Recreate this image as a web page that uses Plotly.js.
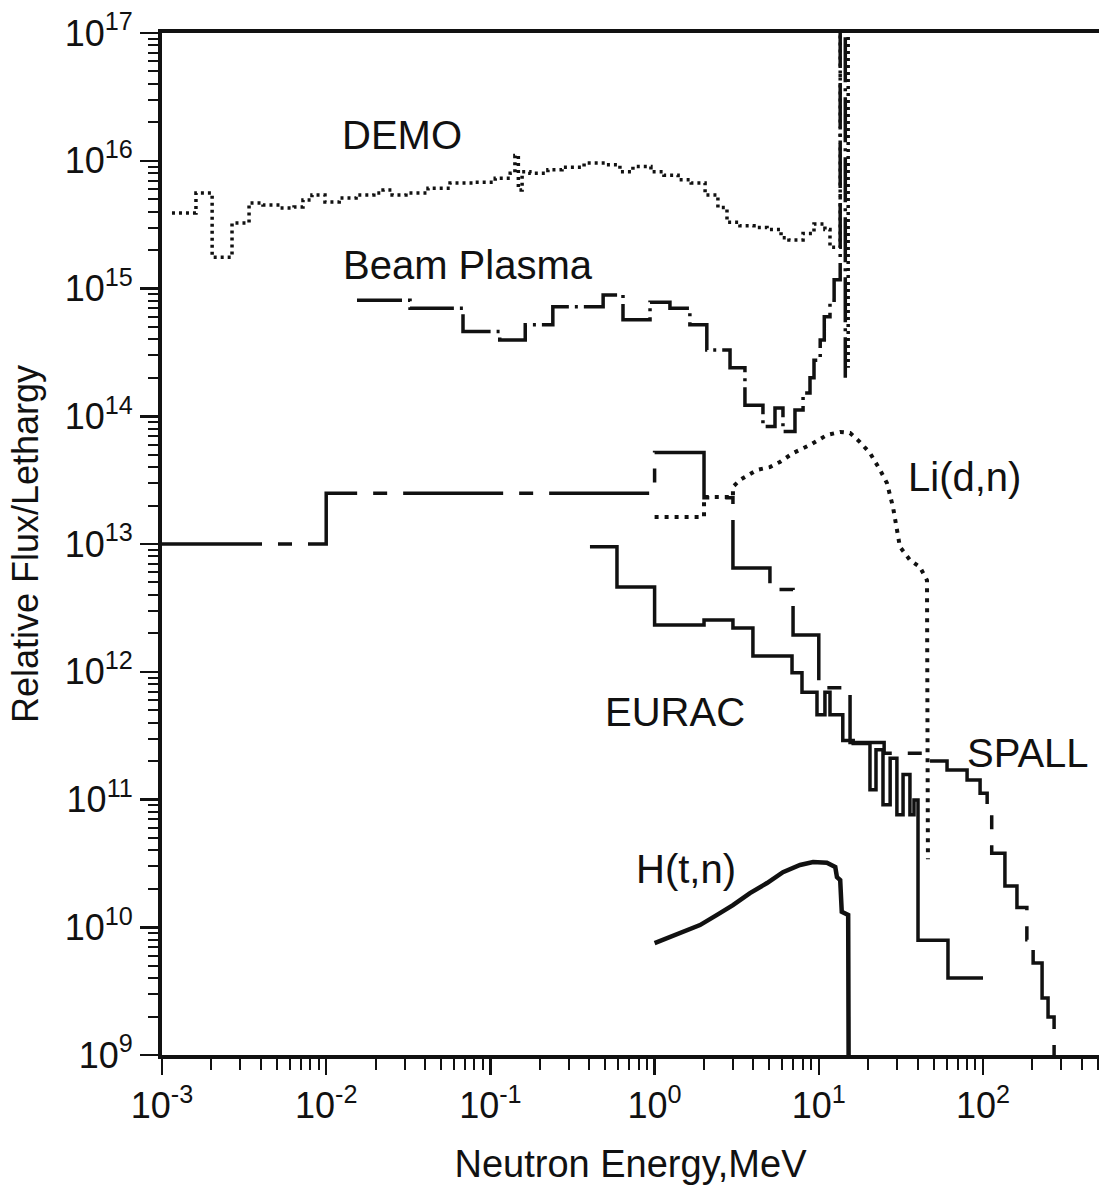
<!DOCTYPE html>
<html>
<head>
<meta charset="utf-8">
<script src="https://cdn.plot.ly/plotly-3.0.1.min.js"></script>
<style>html,body{margin:0;padding:0;background:#fff;}#chart{width:1099px;height:1192px;}</style>
</head>
<body>
<div id="chart"></div>
<script>
// ---- DATA ----
// DEMO: bin lower edges (MeV) and relative flux/lethargy
const demoE = [1.15e-3, 1.61e-3, 2.02e-3, 2.67e-3, 3.39e-3, 4.12e-3, 5.23e-3, 6.37e-3, 7.22e-3, 8.19e-3, 9.83e-3, 1.2e-2, 1.52e-2, 1.95e-2, 2.22e-2, 2.52e-2, 3.06e-2, 4.17e-2, 5.68e-2, 7.84e-2, 0.107, 0.132, 0.141, 0.148, 0.156, 0.174, 0.224, 0.273, 0.372, 0.506, 0.615, 0.738, 0.95, 1.14, 1.39, 1.67, 2.03, 2.43, 2.76, 3.31, 4.03, 4.84, 5.89, 6.58, 8.02, 9.35, 10.9, 11.7, 13.5, 15.1];
const demoFlux = [3.9e15, 5.6e15, 1.76e15, 3.26e15, 4.67e15, 4.5e15, 4.27e15, 4.35e15, 4.93e15, 5.4e15, 4.75e15, 5.1e15, 5.4e15, 5.6e15, 5.9e15, 5.4e15, 5.6e15, 6.1e15, 6.7e15, 6.8e15, 7.3e15, 8.0e15, 1.1e16, 5.9e15, 8.2e15, 8.0e15, 8.5e15, 8.9e15, 9.6e15, 9.3e15, 8.2e15, 9.0e15, 8.2e15, 7.7e15, 7.1e15, 6.7e15, 5.4e15, 4.3e15, 3.3e15, 3.1e15, 3.0e15, 2.9e15, 2.5e15, 2.4e15, 2.7e15, 3.2e15, 2.9e15, 2.1e15, 1e18, 2.4e14];

// Beam Plasma
const bpE = [1.54e-2, 3.24e-2, 6.81e-2, 0.114, 0.163, 0.240, 0.486, 0.642, 0.938, 1.24, 1.64, 2.08, 2.88, 3.55, 4.57, 5.41, 6.05, 7.16, 8.02, 8.84, 9.35, 10.2, 10.8, 11.7, 12.4, 13.5, 14.5];
const bpFlux = [8.1e14, 7.0e14, 4.6e14, 3.95e14, 5.2e14, 7.2e14, 8.9e14, 5.7e14, 7.8e14, 7.0e14, 5.2e14, 3.3e14, 2.4e14, 1.22e14, 8.3e13, 1.16e14, 7.6e13, 1.12e14, 1.52e14, 2.0e14, 2.75e14, 3.95e14, 6.0e14, 8.1e14, 1.17e15, 1e18, 2.0e14];

// Li(d,n)
const lidnE = [1.0, 2.0, 2.0, 3.0, 3.0, 3.31, 4.20, 5.04, 5.8, 6.97, 8.84, 11.2, 13.5, 15.5, 17.8, 20.5, 23.6, 26.0, 28.3, 29.9, 31.2, 35.9, 41.3, 45.6, 46.2];
const lidnFlux = [1.63e13, 1.63e13, 2.33e13, 2.33e13, 2.8e13, 3.17e13, 3.8e13, 4.0e13, 4.39e13, 5.15e13, 5.96e13, 7.13e13, 7.53e13, 7.4e13, 6.28e13, 5.15e13, 3.8e13, 3.0e13, 1.95e13, 1.36e13, 9.5e12, 7.5e12, 6.6e12, 5.2e12, 3.4e10];

// SPALL
const spallE = [1e-3, 1e-2, 1.0, 2.0, 3.0, 5.04, 6.97, 10.0, 15.5, 25.0, 46.2, 60.4, 80.0, 96, 106, 113, 136, 161, 185, 202, 229, 249, 271];
const spallFlux = [1.0e13, 2.5e13, 5.2e13, 2.3e13, 6.5e12, 4.4e12, 1.94e12, 7.5e11, 2.8e11, 2.3e11, 2.0e11, 1.7e11, 1.42e11, 1.12e11, 8.5e10, 3.8e10, 2.1e10, 1.43e10, 8.0e9, 5.25e9, 2.8e9, 1.98e9, 9e8];

// EURAC
const eurE = [0.404, 0.590, 1.0, 2.0, 3.0, 3.97, 6.87, 7.9, 9.75, 10.9, 11.7, 14.0, 16.2, 20.5, 22.3, 24.6, 27.2, 29.9, 32.6, 35.9, 38.0, 40.2, 61.2, 100];
const eurFlux = [9.5e12, 4.6e12, 2.32e12, 2.54e12, 2.2e12, 1.33e12, 9.8e11, 6.9e11, 4.6e11, 6.9e11, 4.6e11, 2.9e11, 2.75e11, 1.19e11, 2.45e11, 9.1e10, 2.1e11, 7.6e10, 1.57e11, 7.6e10, 9.9e10, 7.9e9, 4.0e9, 4.0e9];

// H(t,n)
const htnE = [1.0, 1.19, 1.49, 1.89, 2.40, 3.0, 3.81, 4.84, 6.05, 7.69, 9.23, 11.2, 12.6, 12.9, 13.5, 13.8, 15.1, 15.2];
const htnFlux = [7.5e9, 8.2e9, 9.2e9, 1.04e10, 1.25e10, 1.49e10, 1.85e10, 2.22e10, 2.7e10, 3.07e10, 3.24e10, 3.2e10, 2.96e10, 2.47e10, 2.34e10, 1.32e10, 1.25e10, 8e8];

// Tick labels
const xTickVals = [1e-3, 1e-2, 1e-1, 1, 10, 100];
const xTickText = ['10<sup>-3</sup>', '10<sup>-2</sup>', '10<sup>-1</sup>', '10<sup>0</sup>', '10<sup>1</sup>', '10<sup>2</sup>'];
const yTickVals = [1e9, 1e10, 1e11, 1e12, 1e13, 1e14, 1e15, 1e16, 1e17];
const yTickText = ['10<sup>9</sup>', '10<sup>10</sup>', '10<sup>11</sup>', '10<sup>12</sup>', '10<sup>13</sup>', '10<sup>14</sup>', '10<sup>15</sup>', '10<sup>16</sup>', '10<sup>17</sup>'];

// Curve labels
const curveLabels = ['DEMO', 'Beam Plasma', 'Li(d,n)', 'EURAC', 'SPALL', 'H(t,n)'];

// ---- minor ticks (2..9 per decade) ----
function minorTicks(lo, hi) {
  const out = [];
  for (let d = lo; d <= hi; d++) {
    for (let m = 2; m <= 9; m++) out.push(m * Math.pow(10, d));
  }
  return out;
}

const FONT = 'Liberation Sans, Arial, Helvetica, sans-serif';
const BLK = '#111';

const traces = [
  {x: demoE, y: demoFlux, mode: 'lines', line: {shape: 'hv', color: BLK, width: 3.5, dash: '3px,4px'}, name: curveLabels[0]},
  {x: bpE, y: bpFlux, mode: 'lines', line: {shape: 'hv', color: BLK, width: 3.5, dash: '45px,6px,3px,6px'}, name: curveLabels[1]},
  {x: lidnE, y: lidnFlux, mode: 'lines', line: {shape: 'linear', color: BLK, width: 4, dash: '4px,6px'}, name: curveLabels[2]},
  {x: spallE, y: spallFlux, mode: 'lines', line: {shape: 'hv', color: BLK, width: 3.5, dash: '100px,16px,14px,16px'}, name: curveLabels[4]},
  {x: eurE, y: eurFlux, mode: 'lines', line: {shape: 'hv', color: BLK, width: 3.5}, name: curveLabels[3]},
  {x: htnE, y: htnFlux, mode: 'lines', line: {shape: 'linear', color: BLK, width: 4.5}, name: curveLabels[5]}
];

const annFont = {family: FONT, size: 40, color: BLK};
const annotations = [
  {text: curveLabels[0], x: -1.538, y: 16.202},
  {text: curveLabels[1], x: -1.136, y: 15.184},
  {text: curveLabels[2], x: 1.890, y: 13.525},
  {text: curveLabels[3], x: 0.124, y: 11.685},
  {text: curveLabels[4], x: 2.274, y: 11.364},
  {text: curveLabels[5], x: 0.191, y: 10.456}
].map(a => Object.assign(a, {xref: 'x', yref: 'y', showarrow: false, font: annFont, xanchor: 'center', yanchor: 'middle'}));

const layout = {
  width: 1099, height: 1192,
  margin: {l: 162, r: 0, t: 33, b: 137},
  paper_bgcolor: '#fff', plot_bgcolor: '#fff',
  showlegend: false,
  font: {family: FONT, color: BLK},
  xaxis: {
    type: 'log', range: [-3, 2.7065], automargin: false,
    showline: true, linewidth: 4, linecolor: BLK, mirror: true,
    showgrid: false, zeroline: false,
    tickmode: 'array', tickvals: xTickVals, ticktext: xTickText,
    ticks: 'outside', ticklen: 16, tickwidth: 2.5, tickcolor: BLK,
    tickfont: {family: FONT, size: 36, color: BLK},
    minor: {tickmode: 'array', tickvals: minorTicks(-3, 2), ticks: 'outside', ticklen: 11, tickwidth: 2, tickcolor: BLK, showgrid: false},
    title: {text: 'Neutron Energy,MeV', font: {family: FONT, size: 38, color: BLK}, standoff: 26}
  },
  yaxis: {
    type: 'log', range: [9, 17], automargin: false,
    showline: true, linewidth: 4, linecolor: BLK, mirror: false,
    showgrid: false, zeroline: false,
    tickmode: 'array', tickvals: yTickVals, ticktext: yTickText,
    ticks: 'outside', ticklen: 18, tickwidth: 2.5, tickcolor: BLK,
    tickfont: {family: FONT, size: 36, color: BLK},
    minor: {tickmode: 'array', tickvals: minorTicks(9, 16), ticks: 'outside', ticklen: 10, tickwidth: 2, tickcolor: BLK, showgrid: false},
    title: {text: 'Relative Flux/Lethargy', font: {family: FONT, size: 36, color: BLK}, standoff: 16}
  },
  annotations: annotations
};

Plotly.newPlot('chart', traces, layout, {staticPlot: true, displayModeBar: false});
</script>
</body>
</html>
